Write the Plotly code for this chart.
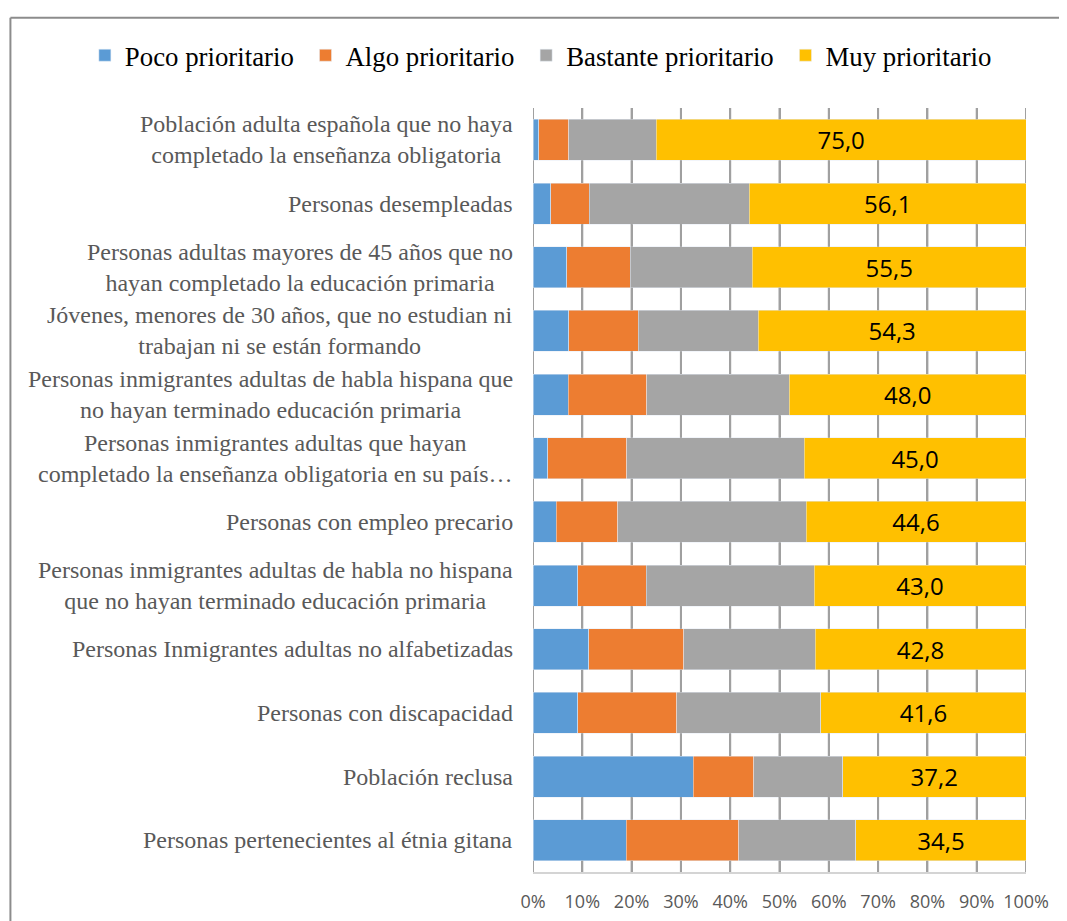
"""
Prioridad de colectivos — gráfico de barras apiladas horizontales (100 %).
"""

import plotly.graph_objects as go


# Categorías, de arriba a abajo (tal como aparecen en el gráfico)
categorias = [
    "Población adulta española que no haya<br>completado la enseñanza obligatoria",
    "Personas desempleadas",
    "Personas adultas mayores de 45 años que no<br>hayan completado la educación primaria",
    "Jóvenes, menores de 30 años, que no estudian ni<br>trabajan ni se están formando",
    "Personas inmigrantes adultas de habla hispana que<br>no hayan terminado educación primaria",
    "Personas inmigrantes adultas que hayan<br>completado la enseñanza obligatoria en su país…",
    "Personas con empleo precario",
    "Personas inmigrantes adultas de habla no hispana<br>que no hayan terminado educación primaria",
    "Personas Inmigrantes adultas no alfabetizadas",
    "Personas con discapacidad",
    "Población reclusa",
    "Personas pertenecientes al étnia gitana",
]

poco = [1.2, 3.6, 6.8, 7.2, 7.1, 3.0, 4.7, 9.1, 11.3, 9.1, 32.5, 18.9]
algo = [6.1, 7.8, 12.9, 14.1, 16.0, 16.0, 12.5, 13.9, 19.3, 20.1, 12.3, 22.8]
bastante = [17.7, 32.5, 24.8, 24.4, 28.9, 36.0, 38.2, 34.0, 26.6, 29.2, 18.0, 23.8]
muy = [75.0, 56.1, 55.5, 54.3, 48.0, 45.0, 44.6, 43.0, 42.8, 41.6, 37.2, 34.5]

x_ticks = [0, 10, 20, 30, 40, 50, 60, 70, 80, 90, 100]
x_tick_labels = [f"{t}%" for t in x_ticks]

SERIES = [
    ("Poco prioritario", poco, "#5B9BD5"),
    ("Algo prioritario", algo, "#ED7D31"),
    ("Bastante prioritario", bastante, "#A5A5A5"),
    ("Muy prioritario", muy, "#FFC000"),
]

SERIF = "Liberation Serif, Times New Roman, serif"
SANS = "Open Sans, Arial, sans-serif"
PAD = "\u00a0"  # separación extra entre elementos de la leyenda
BARGAP = 0.356
GRID = dict(color="#a0a0a0", width=2)

fig = go.Figure()

for name, vals, color in SERIES:
    is_muy = name == "Muy prioritario"
    fig.add_trace(go.Bar(
        y=categorias,
        x=vals,
        orientation="h",
        name=name if is_muy else name + PAD,
        marker=dict(color=color),
        text=[f"{v:.1f}".replace(".", ",") for v in vals] if is_muy else None,
        textposition="inside" if is_muy else "none",
        insidetextanchor="middle",
        textfont=dict(family=SANS, size=24, color="black"),
    ))

# --- Cuadrícula vertical, dibujada sólo en los huecos entre barras ---
# Las posiciones verticales van en fracción del dominio del eje y
# (eje invertido de -0.5 arriba a n-0.5 abajo).
n = len(categorias)
half = (1 - BARGAP) / 2


def dom(v):
    return (n - 0.5 - v) / n


gaps = [(-0.5, -half)] + [(k + half, k + 1 - half) for k in range(n - 1)] + [(n - 1 + half, n - 0.5)]
for t in x_ticks:
    for a, b in gaps:
        fig.add_shape(type="line", xref="x", yref="y domain",
                      x0=t, x1=t, y0=dom(a), y1=dom(b),
                      line=GRID, layer="above")

# --- Etiquetas de categorías (líneas centradas, bloque alineado a la derecha) ---
for cat in categorias:
    fig.add_annotation(
        x=0, xref="paper", y=cat, yref="y",
        text=cat, showarrow=False,
        xanchor="right", xshift=-18, align="center",
        font=dict(family=SERIF, size=24, color="#595959"),
    )

# --- Marco del gráfico: borde superior e izquierdo (el resto queda fuera) ---
FRAME = dict(color="#8c8c8c", width=2)
fig.add_shape(type="line", xref="paper", yref="paper",
              x0=-1.06, x1=1.4, y0=1.118, y1=1.118, line=FRAME)
fig.add_shape(type="line", xref="paper", yref="paper",
              x0=-1.06, x1=-1.06, y0=1.118, y1=-0.3, line=FRAME)

fig.update_layout(
    width=1100, height=950,
    barmode="stack",
    bargap=BARGAP,
    margin=dict(l=525, r=82, t=100, b=86),
    plot_bgcolor="white",
    xaxis=dict(
        range=[0, 100],
        tickvals=x_ticks,
        ticktext=x_tick_labels,
        showgrid=True,
        gridcolor=GRID["color"],
        gridwidth=GRID["width"],
        showline=True,
        linecolor="#d4d4d4",
        linewidth=2,
        tickfont=dict(family=SANS, size=18, color="#595959"),
        ticklabelstandoff=12,
    ),
    yaxis=dict(
        autorange="reversed",
        showticklabels=False,
        showgrid=False,
    ),
    legend=dict(
        orientation="h",
        x=-0.909, xanchor="left",
        y=1.069, yanchor="middle",
        font=dict(family=SERIF, size=26.8, color="black"),
        traceorder="normal",
        itemwidth=30,
    ),
)

fig.write_html("out.html")
